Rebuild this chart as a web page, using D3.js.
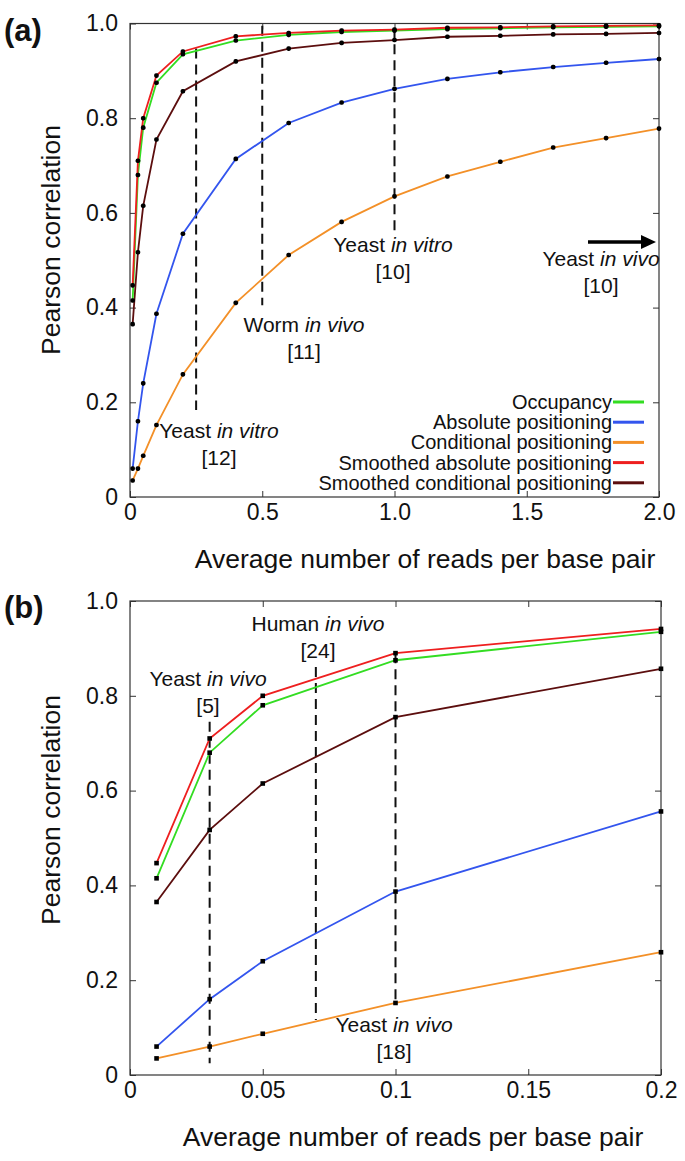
<!DOCTYPE html>
<html><head><meta charset="utf-8">
<script src="https://cdn.jsdelivr.net/npm/d3@7"></script>
<style>
body{margin:0;background:#fff;}
svg text{font-family:"Liberation Sans",Arial,Helvetica,sans-serif;fill:#111;}
</style></head>
<body><svg id="c" width="685" height="1161"></svg>
<script>
// ---- data ----
const xValues = [0.01,0.03,0.05,0.1,0.2,0.4,0.6,0.8,1.0,1.2,1.4,1.6,1.8,2.0];
const occupancy = [0.415,0.68,0.78,0.875,0.935,0.964,0.976,0.982,0.985,0.988,0.990,0.992,0.993,0.994];
const absolutePos = [0.06,0.16,0.24,0.387,0.556,0.714,0.79,0.833,0.862,0.883,0.897,0.908,0.917,0.925];
const conditionalPos = [0.035,0.06,0.087,0.152,0.259,0.41,0.511,0.581,0.635,0.677,0.708,0.738,0.758,0.778];
const smoothedAbs = [0.447,0.71,0.80,0.89,0.941,0.973,0.98,0.985,0.987,0.991,0.992,0.994,0.995,0.996];
const smoothedCond = [0.365,0.517,0.615,0.755,0.857,0.92,0.947,0.959,0.965,0.972,0.974,0.977,0.978,0.98];
const seriesNames = ["Occupancy","Absolute positioning","Conditional positioning","Smoothed absolute positioning","Smoothed conditional positioning"];
const seriesColors = ["#33dd22","#3355ee","#f39028","#ee1f1f","#5c0e0e"];
const yTicks = [0,0.2,0.4,0.6,0.8,1.0];
const yTickLabels = ["0","0.2","0.4","0.6","0.8","1.0"];
const xTicksA = [0,0.5,1.0,1.5,2.0];
const xTickLabelsA = ["0","0.5","1.0","1.5","2.0"];
const xTicksB = [0,0.05,0.1,0.15,0.2];
const xTickLabelsB = ["0","0.05","0.1","0.15","0.2"];
// dashed markers: x, top y, bottom y
const markersA = [[0.25,0.947,0.184],[0.5,0.995,0.405],[1.0,0.99,0.556]];
const markersB = [[0.03,0.745,0.025],[0.07,0.861,0.116],[0.1,0.89,0.152]];

const allSeries = [occupancy,absolutePos,conditionalPos,smoothedAbs,smoothedCond];
const drawOrder = [2,1,4,0,3];

const svg = d3.select("#c");

function panel(cfg){
  const g = svg.append("g");
  const x = d3.scaleLinear().domain(cfg.xDomain).range([cfg.left,cfg.right]);
  const y = d3.scaleLinear().domain([0,1]).range([cfg.bottom,cfg.top]);
  g.append("rect").attr("x",cfg.left).attr("y",cfg.top).attr("width",cfg.right-cfg.left).attr("height",cfg.bottom-cfg.top)
    .attr("fill","none").attr("stroke","#333").attr("stroke-width",1.2);
  const fmtX = (d,i)=>cfg.xLabels[i];
  const ax = g.append("g").attr("transform",`translate(0,${cfg.bottom})`)
    .call(d3.axisBottom(x).tickValues(cfg.xTicks).tickSize(-6).tickPadding(7).tickFormat(fmtX));
  const axT = g.append("g").attr("transform",`translate(0,${cfg.top})`)
    .call(d3.axisTop(x).tickValues(cfg.xTicks).tickSize(-6).tickFormat(""));
  const ay = g.append("g").attr("transform",`translate(${cfg.left},0)`)
    .call(d3.axisLeft(y).tickValues(yTicks).tickSize(-6).tickPadding(12).tickFormat((d,i)=>yTickLabels[i]));
  const ayR = g.append("g").attr("transform",`translate(${cfg.right},0)`)
    .call(d3.axisRight(y).tickValues(yTicks).tickSize(-6).tickFormat(""));
  [ax,axT,ay,ayR].forEach(a=>{a.select(".domain").remove();a.selectAll("line").attr("stroke","#333");
    a.selectAll("text").attr("font-size",23).attr("font-family","Liberation Sans, Arial, sans-serif").attr("fill","#111");});
  ax.selectAll("text").attr("dy","0.71em");
  cfg.markers.forEach(m=>{
    g.append("line").attr("x1",x(m[0])).attr("x2",x(m[0])).attr("y1",y(m[1])).attr("y2",y(m[2]))
      .attr("stroke","#111").attr("stroke-width",2).attr("stroke-dasharray","10,6");
  });
  const n = cfg.n;
  const line = d3.line().x(d=>x(d[0])).y(d=>y(d[1]));
  drawOrder.forEach(si=>{
    const pts = xValues.slice(0,n).map((xv,i)=>[xv,allSeries[si][i]]);
    g.append("path").datum(pts).attr("d",line).attr("fill","none").attr("stroke",seriesColors[si]).attr("stroke-width",1.8);
  });
  drawOrder.forEach(si=>{
    const pts = xValues.slice(0,n).map((xv,i)=>[xv,allSeries[si][i]]);
    g.selectAll(null).data(pts).enter().append("rect")
      .attr("x",d=>x(d[0])-2.3).attr("y",d=>y(d[1])-2.3).attr("width",4.6).attr("height",4.6)
      .attr("rx",cfg.round?1.8:0).attr("fill","#000");
  });
  g.append("text").attr("x",cfg.titleX).attr("y",cfg.bottom+71).attr("text-anchor","middle")
    .attr("font-size",26.5).text("Average number of reads per base pair");
  g.append("text").attr("transform",`translate(60,${cfg.yTitleC}) rotate(-90)`).attr("text-anchor","middle")
    .attr("font-size",26.5).text("Pearson correlation");
  g.append("text").attr("x",4).attr("y",cfg.top+17).attr("font-size",31).attr("font-weight","bold").text(cfg.label);
  return {g,x,y};
}

function annot(g,xp,yp,pre,ital,ref){
  const t = g.append("text").attr("x",xp).attr("y",yp).attr("text-anchor","middle").attr("font-size",21);
  t.append("tspan").text(pre);
  t.append("tspan").attr("font-style","italic").text(ital);
  g.append("text").attr("x",xp).attr("y",yp+27).attr("text-anchor","middle").attr("font-size",21).text(ref);
}

// Panel A
const A = panel({xDomain:[0,2],left:130,right:659,top:23.5,bottom:497,xTicks:xTicksA,xLabels:xTickLabelsA,
  markers:markersA,n:14,label:"(a)",round:true,titleX:425,yTitleC:240});
annot(A.g,219,438,"Yeast ","in vitro","[12]");
annot(A.g,304,332,"Worm ","in vivo","[11]");
annot(A.g,393,252,"Yeast ","in vitro","[10]");
annot(A.g,601,266,"Yeast ","in vivo","[10]");
A.g.append("line").attr("x1",588).attr("x2",643).attr("y1",242).attr("y2",242).attr("stroke","#000").attr("stroke-width",3.5);
A.g.append("path").attr("d","M641,235 L656,242 L641,249 Z").attr("fill","#000");
const legY0 = 402, legStep = 20.2;
seriesNames.forEach((nm,i)=>{
  const yy = legY0 + i*legStep;
  A.g.append("text").attr("x",612).attr("y",yy).attr("dy","0.35em").attr("text-anchor","end").attr("font-size",20).text(nm);
  A.g.append("line").attr("x1",613).attr("x2",644).attr("y1",yy).attr("y2",yy).attr("stroke",seriesColors[i]).attr("stroke-width",3);
});

// Panel B
const B = panel({xDomain:[0,0.2],left:130,right:661,top:601,bottom:1075,xTicks:xTicksB,xLabels:xTickLabelsB,
  markers:markersB,n:5,label:"(b)",round:false,titleX:413,yTitleC:810});
annot(B.g,208,686,"Yeast ","in vivo","[5]");
annot(B.g,318,631,"Human ","in vivo","[24]");
annot(B.g,394,1032,"Yeast ","in vivo","[18]");
</script></body></html>
